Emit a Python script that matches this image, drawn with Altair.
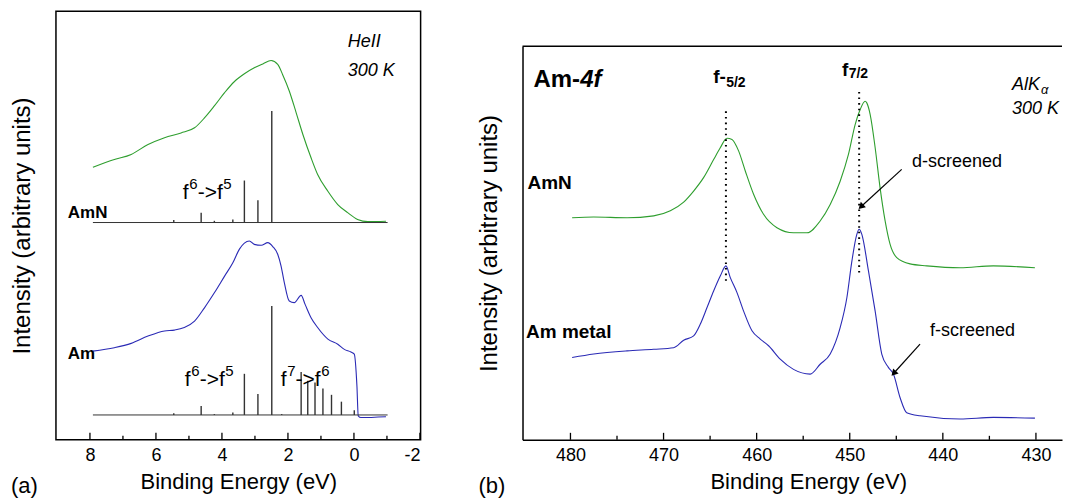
import altair as alt
import pandas as pd

FONT = "Liberation Sans"
GREEN = "#2e9e2e"
BLUE = "#2a2ab5"
STICK = "#333333"

# ---------------- Panel (a): HeII valence band ----------------
a_amn_energy = [7.91, 7.26, 6.75, 6.24, 5.74, 5.24, 4.83, 4.53, 4.23, 3.92, 3.62, 3.32, 3.02, 2.76,
                2.51, 2.31, 2.16, 1.96, 1.75, 1.55, 1.30, 1.10, 0.79, 0.49, 0.19, -0.11, -0.42, -0.97]
a_amn_intensity = [63.6, 65.4, 66.6, 68.9, 70.5, 71.6, 72.8, 75.1, 77.9, 81.0, 83.6, 85.4, 86.8, 87.7,
                   88.5, 87.6, 85.2, 81.4, 76.3, 71.3, 65.8, 61.9, 58.0, 54.9, 53.0, 51.4, 50.9, 51.0]
a_am_energy = [7.91, 7.26, 6.75, 6.24, 5.74, 5.44, 5.14, 4.83, 4.53, 4.23, 3.92, 3.67, 3.47, 3.32,
               3.17, 3.02, 2.81, 2.61, 2.46, 2.31, 2.21, 2.11, 1.96, 1.81, 1.60, 1.48, 1.30, 1.10,
               0.79, 0.49, 0.29, 0.09, -0.01, -0.09, -0.13, -0.21, -0.97]
a_am_intensity = [20.7, 21.5, 22.5, 24.2, 25.4, 25.6, 26.2, 27.7, 30.8, 34.3, 38.2, 41.3, 44.5, 45.9,
                  46.4, 45.6, 45.4, 46.0, 45.1, 43.3, 40.6, 36.7, 32.4, 32.0, 33.7, 31.6, 28.5, 26.2,
                  23.5, 22.3, 21.1, 20.5, 20.0, 12.6, 5.6, 5.2, 5.4]
a_amn_stick_energy = [5.46, 4.63, 4.23, 3.67, 3.32, 2.91, 2.49]
a_amn_stick_top = [51.3, 53.0, 51.1, 51.4, 60.5, 55.9, 76.7]
a_amn_stick_base = 50.7
a_am_stick_energy = [5.46, 4.63, 4.23, 3.67, 3.32, 2.91, 2.49, 2.19, 1.60, 1.40, 1.18, 0.94, 0.68, 0.38, -0.01]
a_am_stick_top = [6.2, 7.9, 6.0, 6.4, 15.4, 10.7, 31.2, 6.0, 15.8, 13.8, 13.4, 12.0, 10.5, 8.9, 6.9]
a_am_stick_base = 5.8
a_stick_range = [7.91, -1.02]
a_major_ticks = [8, 6, 4, 2, 0, -2]
a_minor_ticks = [7, 5, 3, 1, -1]

# ---------------- Panel (b): Am-4f core level ----------------
b_amn_energy = [479.82, 477.50, 473.92, 471.06, 469.27, 467.84, 466.77, 465.70, 464.62, 463.91, 463.19,
                462.65, 461.94, 461.22, 460.33, 459.26, 457.82, 456.04, 454.60, 453.18, 452.10, 451.03,
                450.14, 449.42, 448.88, 448.35, 448.17, 447.81, 447.27, 446.74, 446.20, 445.67, 444.95,
                443.52, 441.73, 438.15, 434.58, 430.11]
b_amn_intensity = [56.4, 56.6, 56.4, 56.9, 58.2, 60.4, 63.2, 66.6, 71.2, 74.2, 76.6,
                   76.3, 73.4, 68.3, 62.4, 57.3, 53.9, 52.6, 52.6, 55.6, 59.8, 65.7,
                   72.5, 80.1, 83.9, 86.0, 85.6, 82.7, 74.2, 64.0, 55.6, 49.7, 46.3,
                   44.7, 44.2, 43.7, 44.2, 43.7]
b_am_energy = [479.82, 477.50, 473.92, 471.06, 468.92, 467.84, 466.77, 466.05, 465.33, 464.62, 463.91,
               463.30, 462.83, 462.11, 461.40, 460.50, 459.61, 458.72, 457.47, 456.04, 454.25, 453.18,
               452.10, 451.03, 450.31, 449.77, 449.24, 448.99, 448.70, 447.99, 447.27, 446.56, 445.85,
               445.31, 444.59, 443.88, 442.45, 438.15, 434.58, 430.11]
b_am_intensity = [20.9, 21.8, 22.6, 23.0, 23.4, 25.3, 26.4, 29.4, 33.6, 37.8, 41.6,
                  44.2, 41.2, 37.4, 32.7, 27.7, 25.6, 23.9, 20.5, 17.9, 16.7, 19.2,
                  21.8, 28.5, 36.1, 45.4, 52.2, 53.5, 52.2, 42.9, 32.7, 21.8, 18.4,
                  16.7, 10.7, 6.9, 6.1, 5.3, 5.7, 5.5]
b_peak_energy = [463.30, 448.99]
b_peak_top = [84.3, 88.6]
b_peak_bottom = [40.4, 42.5]
b_major_ticks = [480, 470, 460, 450, 440, 430]
b_minor_ticks = [475, 465, 455, 445, 435]

W_A, H_A = 365, 429
W_B, H_B = 540, 394

XA_SCALE = alt.Scale(domain=[9.03, -2.02], nice=False, zero=False)
YA_SCALE = alt.Scale(domain=[0, 100], nice=False, zero=False)
XB_SCALE = alt.Scale(domain=[485.15, 427.2], nice=False, zero=False)
YB_SCALE = alt.Scale(domain=[0, 100], nice=False, zero=False)

common_x = dict(tickSize=0, grid=False, labelFontSize=18, labelPadding=7, labelColor="black",
                labelFont=FONT, titleFont=FONT, titleFontSize=22, titleFontWeight="normal",
                titleColor="black", titlePadding=7, labelExpr="'' + datum.value")
XA_AXIS = alt.Axis(title="Binding Energy (eV)", values=a_major_ticks, domain=False, **common_x)
XB_AXIS = alt.Axis(title="Binding Energy (eV)", values=b_major_ticks, domain=True, domainColor="black",
                   domainWidth=1.5, titleX=286, titleAlign="center", **common_x)
common_y = dict(title="Intensity (arbitrary units)", labels=False, ticks=False, grid=False,
                titleFont=FONT, titleFontSize=24, titleFontWeight="normal", titleColor="black",
                titlePadding=21)
YA_AXIS = alt.Axis(domain=False, **common_y)
YB_AXIS = alt.Axis(domain=True, domainColor="black", domainWidth=1.5, **common_y)


def xa(f):
    return alt.X(f, type="quantitative", scale=XA_SCALE, axis=XA_AXIS)


def ya(f):
    return alt.Y(f, type="quantitative", scale=YA_SCALE, axis=YA_AXIS)


def xb(f):
    return alt.X(f, type="quantitative", scale=XB_SCALE, axis=XB_AXIS)


def yb(f):
    return alt.Y(f, type="quantitative", scale=YB_SCALE, axis=YB_AXIS)


def text(xf, yf, x, y, s, size, weight="normal", style="normal", baseline="middle", align="left"):
    df = pd.DataFrame({"x": [x], "y": [y], "s": [s]})
    return alt.Chart(df).mark_text(align=align, baseline=baseline, fontSize=size, fontWeight=weight,
                                   fontStyle=style, font=FONT, color="black").encode(
        x=xf("x"), y=yf("y"), text="s:N")


def pix_text(x, y, s, size):
    df = pd.DataFrame({"s": [s]})
    return alt.Chart(df).mark_text(align="left", baseline="middle", fontSize=size, font=FONT,
                                   color="black").encode(x=alt.value(x), y=alt.value(y), text="s:N")


def ticks(xf, vals, length, h):
    df = pd.DataFrame({"t": vals})
    return alt.Chart(df).mark_rule(color="black", strokeWidth=1.3).encode(
        x=xf("t"), y=alt.value(h), y2=alt.value(h - length))


def transition(xs, base, sup_base, parts):
    out = []
    for x, (s, sup) in zip(xs, parts):
        out.append(text(xa, ya, x, sup_base if sup else base, s, 15 if sup else 21, baseline="alphabetic"))
    return out


# ---- panel (a) layers ----
a_green = alt.Chart(pd.DataFrame({"E": a_amn_energy, "I": a_amn_intensity})).mark_line(
    color=GREEN, strokeWidth=1.1, interpolate="monotone").encode(x=xa("E"), y=ya("I"))
a_blue = alt.Chart(pd.DataFrame({"E": a_am_energy, "I": a_am_intensity})).mark_line(
    color=BLUE, strokeWidth=1.1, interpolate="monotone").encode(x=xa("E"), y=ya("I"))
base_df = pd.DataFrame({"x1": [a_stick_range[0]] * 2, "x2": [a_stick_range[1]] * 2,
                        "b": [a_amn_stick_base, a_am_stick_base]})
a_base = alt.Chart(base_df).mark_rule(color=STICK, strokeWidth=1).encode(
    x=xa("x1"), x2="x2", y=ya("b"))
sticks_df = pd.DataFrame({
    "E": a_amn_stick_energy + a_am_stick_energy,
    "top": a_amn_stick_top + a_am_stick_top,
    "b": [a_amn_stick_base] * len(a_amn_stick_energy) + [a_am_stick_base] * len(a_am_stick_energy),
})
a_sticks = alt.Chart(sticks_df).mark_rule(color=STICK, strokeWidth=1.4).encode(
    x=xa("E"), y=ya("b"), y2="top")

f65 = [("f", False), ("6", True), ("->f", False), ("5", True)]
f76 = [("f", False), ("7", True), ("->f", False), ("6", True)]
a_labels = (
    transition([5.185, 4.99, 4.73, 3.96], 56.2, 58.6, f65)
    + transition([5.125, 4.93, 4.67, 3.90], 12.6, 15.0, f65)
    + transition([2.22, 2.02, 1.77, 0.99], 12.6, 15.0, f76)
)

panel_a = alt.layer(
    a_green, a_blue, a_base, a_sticks,
    ticks(xa, a_major_ticks, 7, H_A), ticks(xa, a_minor_ticks, 4, H_A),
    text(xa, ya, 0.19, 92.8, "HeII", 18, style="italic"),
    text(xa, ya, 0.19, 86.0, "300 K", 18, style="italic"),
    text(xa, ya, 8.67, 52.9, "AmN", 17, weight="bold"),
    text(xa, ya, 8.67, 20.0, "Am", 17, weight="bold"),
    *a_labels,
    pix_text(-45, H_A + 46, "(a)", 22),
).properties(width=W_A, height=H_A, view=alt.ViewBackground(stroke="black", strokeWidth=1.5))

# ---- panel (b) layers ----
b_green = alt.Chart(pd.DataFrame({"E": b_amn_energy, "I": b_amn_intensity})).mark_line(
    color=GREEN, strokeWidth=1.1, interpolate="monotone").encode(x=xb("E"), y=yb("I"))
b_blue = alt.Chart(pd.DataFrame({"E": b_am_energy, "I": b_am_intensity})).mark_line(
    color=BLUE, strokeWidth=1.1, interpolate="monotone").encode(x=xb("E"), y=yb("I"))
b_dots = alt.Chart(pd.DataFrame({"E": b_peak_energy, "t": b_peak_top, "b": b_peak_bottom})).mark_rule(
    color="black", strokeWidth=2, strokeDash=[1.6, 4]).encode(x=xb("E"), y=yb("b"), y2="t")
top_line = alt.Chart(pd.DataFrame({"k": [0]})).mark_rule(color="black", strokeWidth=1.5).encode(
    x=alt.value(0), x2=alt.value(W_B), y=alt.value(0))
arrows_df = pd.DataFrame({"x1": [444.42, 442.45], "y1": [68.7, 24.3],
                          "x2": [448.71, 445.20], "y2": [59.4, 17.1]})
b_arrows = alt.Chart(arrows_df).mark_rule(color="black", strokeWidth=1.2).encode(
    x=xb("x1"), y=yb("y1"), x2="x2", y2="y2")
head1 = alt.Chart(arrows_df.iloc[[0]]).mark_point(shape="triangle", filled=True, size=55, angle=227,
                                                  color="black", opacity=1).encode(x=xb("x2"), y=yb("y2"))
head2 = alt.Chart(arrows_df.iloc[[1]]).mark_point(shape="triangle", filled=True, size=55, angle=222,
                                                  color="black", opacity=1).encode(x=xb("x2"), y=yb("y2"))

panel_b = alt.layer(
    top_line, b_green, b_blue, b_dots, b_arrows, head1, head2,
    ticks(xb, b_major_ticks, 7, H_B), ticks(xb, b_minor_ticks, 4, H_B),
    text(xb, yb, 483.97, 91.4, "Am-", 24, weight="bold"),
    text(xb, yb, 478.96, 91.4, "4f", 24, weight="bold", style="italic"),
    text(xb, yb, 484.61, 65.2, "AmN", 19, weight="bold"),
    text(xb, yb, 484.77, 27.4, "Am metal", 19, weight="bold"),
    text(xb, yb, 464.66, 90.7, "f-", 19, weight="bold", baseline="alphabetic"),
    text(xb, yb, 463.27, 89.6, "5/2", 14, weight="bold", baseline="alphabetic"),
    text(xb, yb, 450.82, 92.4, "f", 19, weight="bold", baseline="alphabetic"),
    text(xb, yb, 450.11, 91.8, "7/2", 14, weight="bold", baseline="alphabetic"),
    text(xb, yb, 432.58, 88.8, "AlK", 18, style="italic", baseline="alphabetic"),
    text(xb, yb, 429.46, 87.8, "α", 13, style="italic", baseline="alphabetic"),
    text(xb, yb, 432.58, 82.7, "300 K", 18, style="italic", baseline="alphabetic"),
    text(xb, yb, 443.30, 70.6, "d-screened", 18),
    text(xb, yb, 441.37, 27.7, "f-screened", 18),
    pix_text(-44, H_B + 46, "(b)", 22),
).properties(width=W_B, height=H_B)

spacer = alt.Chart(pd.DataFrame({"k": [0]})).mark_point(opacity=0, size=1).encode(
    x=alt.value(0), y=alt.value(0)).properties(width=W_B, height=32)

right = alt.vconcat(spacer, panel_b, spacing=0)

chart = alt.hconcat(panel_a, right, spacing=55).properties(
    padding={"left": 2, "top": 2, "right": 0, "bottom": 0}
).configure(font=FONT).configure_view(stroke="transparent")

chart.save("out.html", embed_options={"renderer": "svg", "actions": False})
